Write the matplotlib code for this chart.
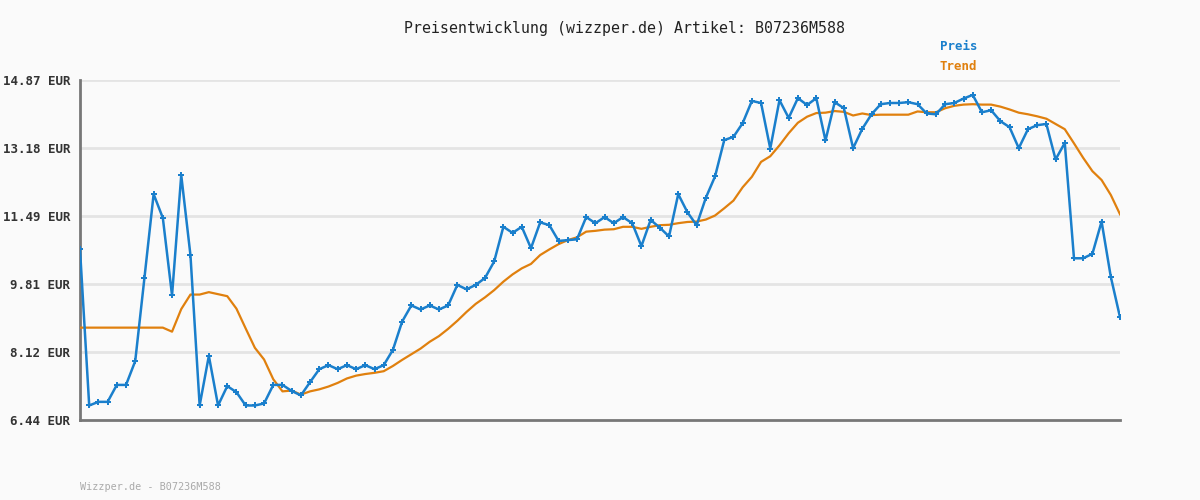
import matplotlib

matplotlib.use("Agg")
import matplotlib.pyplot as plt
import numpy as np

BG = "#fafafa"
BLUE = "#1a7fcc"
ORANGE = "#e0800e"
AXIS_GREY = "#777777"
GRID_GREY = "#e4e4e4"

TITLE = "Preisentwicklung (wizzper.de) Artikel: B07236M588"
FOOTER = "Wizzper.de - B07236M588"

Y_TICKS = [6.44, 8.12, 9.81, 11.49, 13.18, 14.87]

# price per sample
PRICE = [
    10.67, 6.80, 6.89, 6.89, 7.31, 7.31, 7.90, 9.96, 12.04, 11.45,
    9.53, 12.51, 10.53, 6.80, 8.03, 6.80, 7.28, 7.13, 6.80, 6.80,
    6.85, 7.31, 7.31, 7.16, 7.05, 7.38, 7.70, 7.80, 7.70, 7.80,
    7.70, 7.80, 7.70, 7.80, 8.18, 8.88, 9.28, 9.18, 9.28, 9.18,
    9.28, 9.79, 9.68, 9.79, 9.96, 10.37, 11.23, 11.08, 11.23, 10.70,
    11.34, 11.27, 10.88, 10.90, 10.92, 11.47, 11.32, 11.47, 11.32, 11.47,
    11.32, 10.75, 11.40, 11.21, 10.99, 12.04, 11.59, 11.27, 11.95, 12.48,
    13.38, 13.46, 13.80, 14.35, 14.30, 13.17, 14.37, 13.93, 14.42, 14.25,
    14.42, 13.37, 14.32, 14.17, 13.18, 13.66, 14.02, 14.27, 14.30, 14.30,
    14.32, 14.27, 14.04, 14.02, 14.27, 14.30, 14.41, 14.50, 14.07, 14.12,
    13.85, 13.70, 13.18, 13.65, 13.75, 13.78, 12.90, 13.31, 10.45, 10.45,
    10.56, 11.36, 9.99, 8.99,
]

TREND = [
    8.73, 8.73, 8.73, 8.73, 8.73, 8.73, 8.73, 8.73, 8.73, 8.73,
    8.63, 9.19, 9.55, 9.55, 9.61, 9.56, 9.51, 9.20, 8.71, 8.23,
    7.94, 7.45, 7.15, 7.17, 7.07, 7.15, 7.20, 7.27, 7.36, 7.47,
    7.54, 7.58, 7.61, 7.65, 7.78, 7.93, 8.07, 8.21, 8.38, 8.52,
    8.70, 8.90, 9.12, 9.32, 9.48, 9.66, 9.87, 10.05, 10.20, 10.31,
    10.53, 10.67, 10.80, 10.90, 10.97, 11.11, 11.13, 11.16, 11.17, 11.23,
    11.23, 11.18, 11.23, 11.27, 11.28, 11.32, 11.35, 11.36, 11.41, 11.51,
    11.69, 11.88, 12.21, 12.47, 12.84, 12.98, 13.25, 13.55, 13.81, 13.96,
    14.05, 14.06, 14.10, 14.08, 13.99, 14.04, 14.00, 14.01, 14.01, 14.01,
    14.01, 14.09, 14.07, 14.07, 14.17, 14.23, 14.26, 14.27, 14.26, 14.26,
    14.21, 14.14, 14.06, 14.02, 13.97, 13.91, 13.78, 13.65, 13.30, 12.94,
    12.61, 12.39, 12.02, 11.54,
]

MONO = "DejaVu Sans Mono"

fig = plt.figure(figsize=(12, 5), dpi=100, facecolor=BG)
ax = fig.add_axes([80 / 1200, 80 / 500, 1040 / 1200, 340 / 500])
ax.set_facecolor(BG)

x = np.arange(len(PRICE))
ax.plot(x, TREND, color=ORANGE, lw=1.6, zorder=3)
ax.plot(x, PRICE, color=BLUE, lw=1.8, marker="P", markersize=4.5,
        markeredgewidth=0, zorder=4)

ax.set_xlim(0, len(PRICE) - 1)
ax.set_ylim(Y_TICKS[0], Y_TICKS[-1])
ax.set_xticks([])
ax.set_yticks(Y_TICKS)
ax.set_yticklabels([f"{v:.2f} EUR" for v in Y_TICKS], fontfamily=MONO,
                   fontsize=9, fontweight="bold", color="#333333")
ax.tick_params(axis="y", length=0, pad=7)

for v in Y_TICKS[1:]:
    ax.axhline(v, color=GRID_GREY, lw=2, zorder=1)

for side in ("top", "right"):
    ax.spines[side].set_visible(False)
for side in ("left", "bottom"):
    ax.spines[side].set_color(AXIS_GREY)
    ax.spines[side].set_linewidth(2)

fig.text(624 / 1200, 1 - 28 / 500, TITLE, ha="center", va="center",
         fontfamily=MONO, fontsize=10.7, color="#222222")
fig.text(940 / 1200, 1 - 47 / 500, "Preis", ha="left", va="center",
         fontfamily=MONO, fontsize=9, fontweight="bold", color=BLUE)
fig.text(940 / 1200, 1 - 67 / 500, "Trend", ha="left", va="center",
         fontfamily=MONO, fontsize=9, fontweight="bold", color=ORANGE)
fig.text(80 / 1200, 1 - 487 / 500, FOOTER, ha="left", va="center",
         fontfamily=MONO, fontsize=7.3, color="#aaaaaa")

fig.savefig("out.png", dpi=100, facecolor=BG)
